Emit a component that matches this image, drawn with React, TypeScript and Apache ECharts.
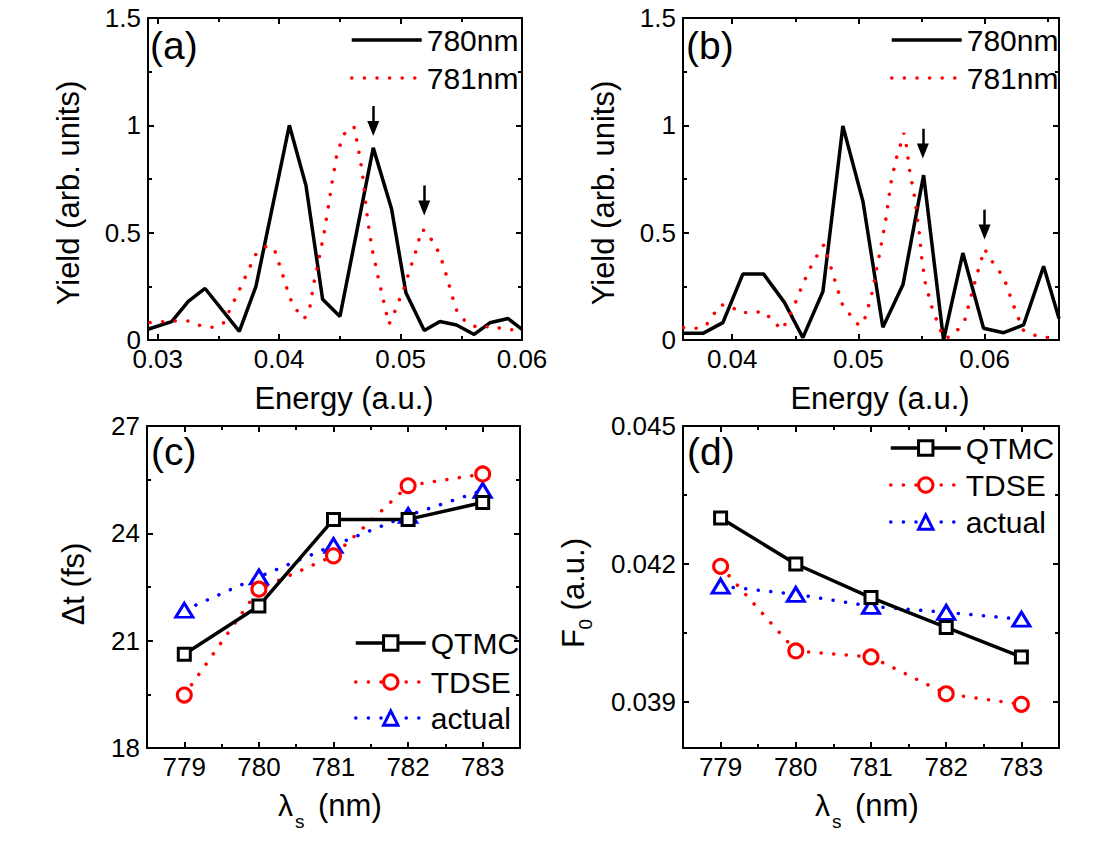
import React, { useEffect, useRef } from 'react';
import * as echarts from 'echarts';

const FONT = "'Liberation Sans', Arial, Helvetica, sans-serif";

// ---------- Panel (a): photoelectron yield vs energy ----------
const aEnergy780 = [0.0292, 0.03115, 0.03252, 0.0339, 0.03672, 0.03809, 0.04084, 0.04221, 0.04358, 0.04501, 0.04775, 0.04926, 0.05044, 0.05195, 0.05324, 0.05461, 0.05606, 0.05735, 0.05886, 0.06];
const aYield780 = [0.05, 0.086, 0.18, 0.24, 0.04, 0.25, 1.0, 0.72, 0.19, 0.11, 0.895, 0.61, 0.22, 0.044, 0.086, 0.07, 0.026, 0.08, 0.1, 0.05];
const aEnergy781 = [0.02937, 0.03151, 0.03258, 0.03357, 0.03458, 0.0354, 0.03587, 0.03678, 0.03765, 0.03809, 0.03892, 0.03957, 0.04023, 0.04084, 0.0413, 0.04207, 0.04254, 0.04289, 0.04331, 0.04372, 0.04405, 0.04438, 0.04473, 0.04531, 0.04616, 0.04652, 0.04687, 0.04709, 0.04734, 0.04767, 0.04811, 0.04857, 0.04904, 0.04942, 0.04978, 0.05019, 0.05085, 0.05118, 0.05173, 0.05217, 0.05269, 0.05324, 0.05384, 0.05442, 0.05469, 0.0554, 0.05645, 0.05746, 0.05853, 0.05955];
const aYield781 = [0.081, 0.089, 0.089, 0.065, 0.059, 0.078, 0.132, 0.24, 0.347, 0.4, 0.436, 0.428, 0.315, 0.2025, 0.148, 0.098, 0.156, 0.273, 0.386, 0.505, 0.62, 0.74, 0.858, 0.958, 0.994, 0.893, 0.773, 0.654, 0.537, 0.42, 0.302, 0.19, 0.073, 0.117, 0.171, 0.226, 0.343, 0.397, 0.514, 0.506, 0.452, 0.4, 0.288, 0.171, 0.128, 0.083, 0.055, 0.065, 0.05, 0.047];
const aArrowX = [0.04775, 0.05195];
const aArrowFrom = [1.09, 0.72];
const aArrowTo = [0.985, 0.615];

// ---------- Panel (b) ----------
const bEnergy780 = [0.0361, 0.03768, 0.03926, 0.04085, 0.04248, 0.04415, 0.0456, 0.04719, 0.04877, 0.05036, 0.05194, 0.05353, 0.05517, 0.05675, 0.05828, 0.05992, 0.06151, 0.06309, 0.06468, 0.0659];
const bYield780 = [0.031, 0.031, 0.081, 0.308, 0.308, 0.174, 0.011, 0.226, 0.997, 0.646, 0.059, 0.257, 0.768, 0.0, 0.405, 0.055, 0.034, 0.07, 0.343, 0.1];
const bEnergy781 = [0.03614, 0.03715, 0.03789, 0.03905, 0.03979, 0.04063, 0.04169, 0.04248, 0.04322, 0.04396, 0.04481, 0.04555, 0.04639, 0.04727, 0.04758, 0.04816, 0.04877, 0.04935, 0.05004, 0.05044, 0.05102, 0.0516, 0.05215, 0.05258, 0.053, 0.05361, 0.0538, 0.05406, 0.05445, 0.05485, 0.05503, 0.05532, 0.05585, 0.05657, 0.05691, 0.05776, 0.05842, 0.05894, 0.05947, 0.06, 0.06053, 0.06114, 0.06166, 0.06233, 0.06304, 0.06388, 0.06489, 0.06581];
const bYield781 = [0.058, 0.055, 0.065, 0.164, 0.16, 0.128, 0.128, 0.134, 0.089, 0.047, 0.145, 0.254, 0.361, 0.444, 0.386, 0.273, 0.159, 0.117, 0.067, 0.086, 0.202, 0.377, 0.553, 0.732, 0.844, 0.964, 0.908, 0.79, 0.667, 0.49, 0.377, 0.26, 0.148, 0.036, 0.005, 0.039, 0.089, 0.206, 0.319, 0.424, 0.371, 0.324, 0.268, 0.156, 0.047, 0.023, 0.012, 0.003];
const bArrowX = [0.05511, 0.06];
const bArrowFrom = [0.984, 0.607];
const bArrowTo = [0.88, 0.503];

// ---------- Panels (c) and (d) ----------
const lambdaS = [779, 780, 781, 782, 783];
const cQTMC = [20.62, 21.97, 24.39, 24.39, 24.86];
const cTDSE = [19.48, 22.44, 23.37, 25.33, 25.66];
const cActual = [21.85, 22.78, 23.66, 24.5, 25.2];
const dQTMC = [0.043, 0.042, 0.04127, 0.04062, 0.03998];
const dTDSE = [0.04195, 0.04011, 0.03998, 0.03918, 0.03895];
const dActual = [0.04152, 0.04134, 0.04108, 0.04095, 0.0408];

// ---------- Tick labels ----------
const energyTicksA = ['0.03', '0.04', '0.05', '0.06'];
const energyMinorA = [0.035, 0.045, 0.055];
const energyTicksB = ['0.04', '0.05', '0.06'];
const energyMinorB = [0.045, 0.055, 0.065];
const yieldTicks = ['0', '0.5', '1', '1.5'];
const yieldMinor = [0.25, 0.75, 1.25];
const lambdaTicks = ['779', '780', '781', '782', '783'];
const lambdaMinor = [779.5, 780.5, 781.5, 782.5];
const dtTicks = ['18', '21', '24', '27'];
const dtMinor = [19.5, 22.5, 25.5];
const f0Ticks = ['0.039', '0.042', '0.045'];
const f0Minor = [0.0405, 0.0435];

const zip = (xs: number[], ys: number[]) => xs.map((x, i) => [x, ys[i]]);

function axisSet(dim: 'x' | 'y', gridIndex: number, min: number, max: number, tickLabels: string[], minor: number[], margin: number) {
  const major = tickLabels.map(Number);
  const fmt = (v: number) => {
    const i = major.findIndex((m) => Math.abs(m - v) < 1e-9);
    return i >= 0 ? tickLabels[i] : '';
  };
  const pos = dim === 'x' ? ['bottom', 'top'] : ['left', 'right'];
  const line = { color: '#000', width: 2 };
  const mk = (position: string, values: number[], len: number, withLine: boolean, withLabel: boolean) => ({
    type: 'value',
    gridIndex,
    min,
    max,
    position,
    splitLine: { show: false },
    axisLine: { show: withLine, onZero: false, lineStyle: line },
    axisTick: { show: true, inside: true, length: len, customValues: values, lineStyle: line },
    axisLabel: withLabel
      ? { show: true, customValues: major, formatter: fmt, margin, fontSize: 26, fontFamily: FONT, color: '#000' }
      : { show: false },
  });
  return [
    mk(pos[0], major, 6, true, true),
    mk(pos[0], minor, 4, false, false),
    mk(pos[1], major, 6, true, false),
    mk(pos[1], minor, 4, false, false),
  ];
}

const solidBlack = { color: '#000', width: 3.5, type: 'solid' as const };
const dottedRed = { color: '#ff0000', width: 3.5, type: [0.1, 12.5], cap: 'round' as const };
const dottedBlue = { color: '#0000ff', width: 3.5, type: [0.1, 12.5], cap: 'round' as const };

function arrows(xs: number[], from: number[], to: number[]) {
  return {
    silent: true,
    animation: false,
    symbol: ['none', 'triangle'],
    symbolSize: [12, 15],
    label: { show: false },
    lineStyle: { color: '#000', width: 2.5, type: 'solid' },
    itemStyle: { color: '#000' },
    emphasis: { disabled: true },
    data: xs.map((x, i) => [{ coord: [x, from[i]] }, { coord: [x, to[i]] }]),
  };
}

function legendRow(name: string, left: number, top: number, plain: boolean) {
  return {
    data: [name],
    left,
    top,
    orient: 'horizontal',
    padding: 0,
    itemWidth: 70,
    itemHeight: 18,
    selectedMode: false,
    textStyle: { fontSize: 30, fontFamily: FONT, color: '#000' },
    lineStyle: { width: 3.5 },
    itemStyle: plain ? { color: 'rgba(0,0,0,0)', borderWidth: 0 } : { borderWidth: 3 },
  };
}

function txt(x: number, y: number, text: string, fontSize: number, align = 'left', rotation = 0) {
  return {
    type: 'text',
    x,
    y,
    rotation,
    silent: true,
    style: { text, fontSize, fontFamily: FONT, fill: '#000', align, verticalAlign: 'middle' },
  };
}

function buildOption() {
  const grids = [
    { left: 148, top: 18, width: 374, height: 322 },
    { left: 683, top: 18, width: 376, height: 322 },
    { left: 147, top: 426, width: 373, height: 322 },
    { left: 683, top: 426, width: 376, height: 322 },
  ].map((g) => ({ ...g, outerBoundsMode: 'none', containLabel: false }));

  const xAxis = [
    ...axisSet('x', 0, 0.0292, 0.06, energyTicksA, energyMinorA, 6),
    ...axisSet('x', 1, 0.0361, 0.0659, energyTicksB, energyMinorB, 6),
    ...axisSet('x', 2, 778.5, 783.5, lambdaTicks, lambdaMinor, 6),
    ...axisSet('x', 3, 778.5, 783.5, lambdaTicks, lambdaMinor, 6),
  ];
  const yAxis = [
    ...axisSet('y', 0, 0, 1.5, yieldTicks, yieldMinor, 7),
    ...axisSet('y', 1, 0, 1.5, yieldTicks, yieldMinor, 7),
    ...axisSet('y', 2, 18, 27, dtTicks, dtMinor, 7),
    ...axisSet('y', 3, 0.038, 0.045, f0Ticks, f0Minor, 7),
  ];

  const common = { type: 'line', silent: true, animation: false, emphasis: { disabled: true } };
  const plainLine = (name: string, g: number, data: number[][], ls: any, extra: any = {}) => ({
    ...common,
    name,
    xAxisIndex: g * 4,
    yAxisIndex: g * 4,
    data,
    symbol: 'none',
    lineStyle: ls,
    itemStyle: { color: ls.color },
    ...extra,
  });
  const markerLine = (name: string, g: number, ys: number[], ls: any, symbol: string, size: any) => ({
    ...common,
    name,
    xAxisIndex: g * 4,
    yAxisIndex: g * 4,
    data: zip(lambdaS, ys),
    symbol,
    symbolSize: size,
    showSymbol: true,
    lineStyle: ls,
    itemStyle: { color: '#fff', borderColor: ls.color, borderWidth: 3 },
  });

  const series = [
    plainLine('780nm', 0, zip(aEnergy780, aYield780), solidBlack, { markLine: arrows(aArrowX, aArrowFrom, aArrowTo) }),
    plainLine('781nm', 0, zip(aEnergy781, aYield781), dottedRed),
    plainLine('780nm', 1, zip(bEnergy780, bYield780), solidBlack, { markLine: arrows(bArrowX, bArrowFrom, bArrowTo) }),
    plainLine('781nm', 1, zip(bEnergy781, bYield781), dottedRed),
    markerLine('actual', 2, cActual, dottedBlue, 'triangle', [17, 14]),
    markerLine('TDSE', 2, cTDSE, dottedRed, 'circle', 14),
    markerLine('QTMC', 2, cQTMC, { color: '#000', width: 3.5, type: 'solid' }, 'rect', 12),
    markerLine('actual', 3, dActual, dottedBlue, 'triangle', [17, 14]),
    markerLine('TDSE', 3, dTDSE, dottedRed, 'circle', 14),
    markerLine('QTMC', 3, dQTMC, { color: '#000', width: 3.5, type: 'solid' }, 'rect', 12),
  ];

  const legend = [
    legendRow('780nm', 350, 25, true),
    legendRow('781nm', 350, 63, true),
    legendRow('780nm', 890, 25, true),
    legendRow('781nm', 890, 63, true),
    legendRow('QTMC', 354, 628, false),
    legendRow('TDSE', 354, 667, false),
    legendRow('actual', 354, 703, false),
    legendRow('QTMC', 889, 433, false),
    legendRow('TDSE', 889, 470, false),
    legendRow('actual', 889, 507, false),
  ];

  const graphic = [
    txt(150, 45, '(a)', 39),
    txt(686, 45, '(b)', 39),
    txt(151, 451, '(c)', 39),
    txt(687, 451, '(d)', 39),
    txt(68, 193, 'Yield (arb. units)', 31, 'center', Math.PI / 2),
    txt(603, 193, 'Yield (arb. units)', 31, 'center', Math.PI / 2),
    txt(344, 398, 'Energy (a.u.)', 31, 'center'),
    txt(880, 398, 'Energy (a.u.)', 31, 'center'),
    txt(73, 584, 'Δt (fs)', 31, 'center', Math.PI / 2),
    {
      type: 'group',
      x: 584,
      y: 648,
      rotation: Math.PI / 2,
      silent: true,
      children: [txt(0, -10.4, 'F', 31), txt(18.5, 1.4, '0', 19), txt(29, -10.4, ' (a.u.)', 31)],
    },
    txt(278, 805.6, 'λ', 30),
    txt(295, 821.4, 's', 19),
    txt(318, 805.6, '(nm)', 31),
    txt(815, 805.6, 'λ', 30),
    txt(832, 821.4, 's', 19),
    txt(855, 805.6, '(nm)', 31),
  ];

  return {
    animation: false,
    backgroundColor: '#fff',
    textStyle: { fontFamily: FONT },
    grid: grids,
    xAxis,
    yAxis,
    series,
    legend,
    graphic,
  };
}

export default function App() {
  const ref = useRef<HTMLDivElement>(null);
  useEffect(() => {
    if (!ref.current) return;
    const chart = echarts.init(ref.current, null, { renderer: 'svg' });
    chart.setOption(buildOption() as any);
    return () => chart.dispose();
  }, []);
  return (
    <div
      ref={ref}
      style={{ position: 'fixed', left: 0, top: 0, width: 1115, height: 854, background: '#fff' }}
    />
  );
}
